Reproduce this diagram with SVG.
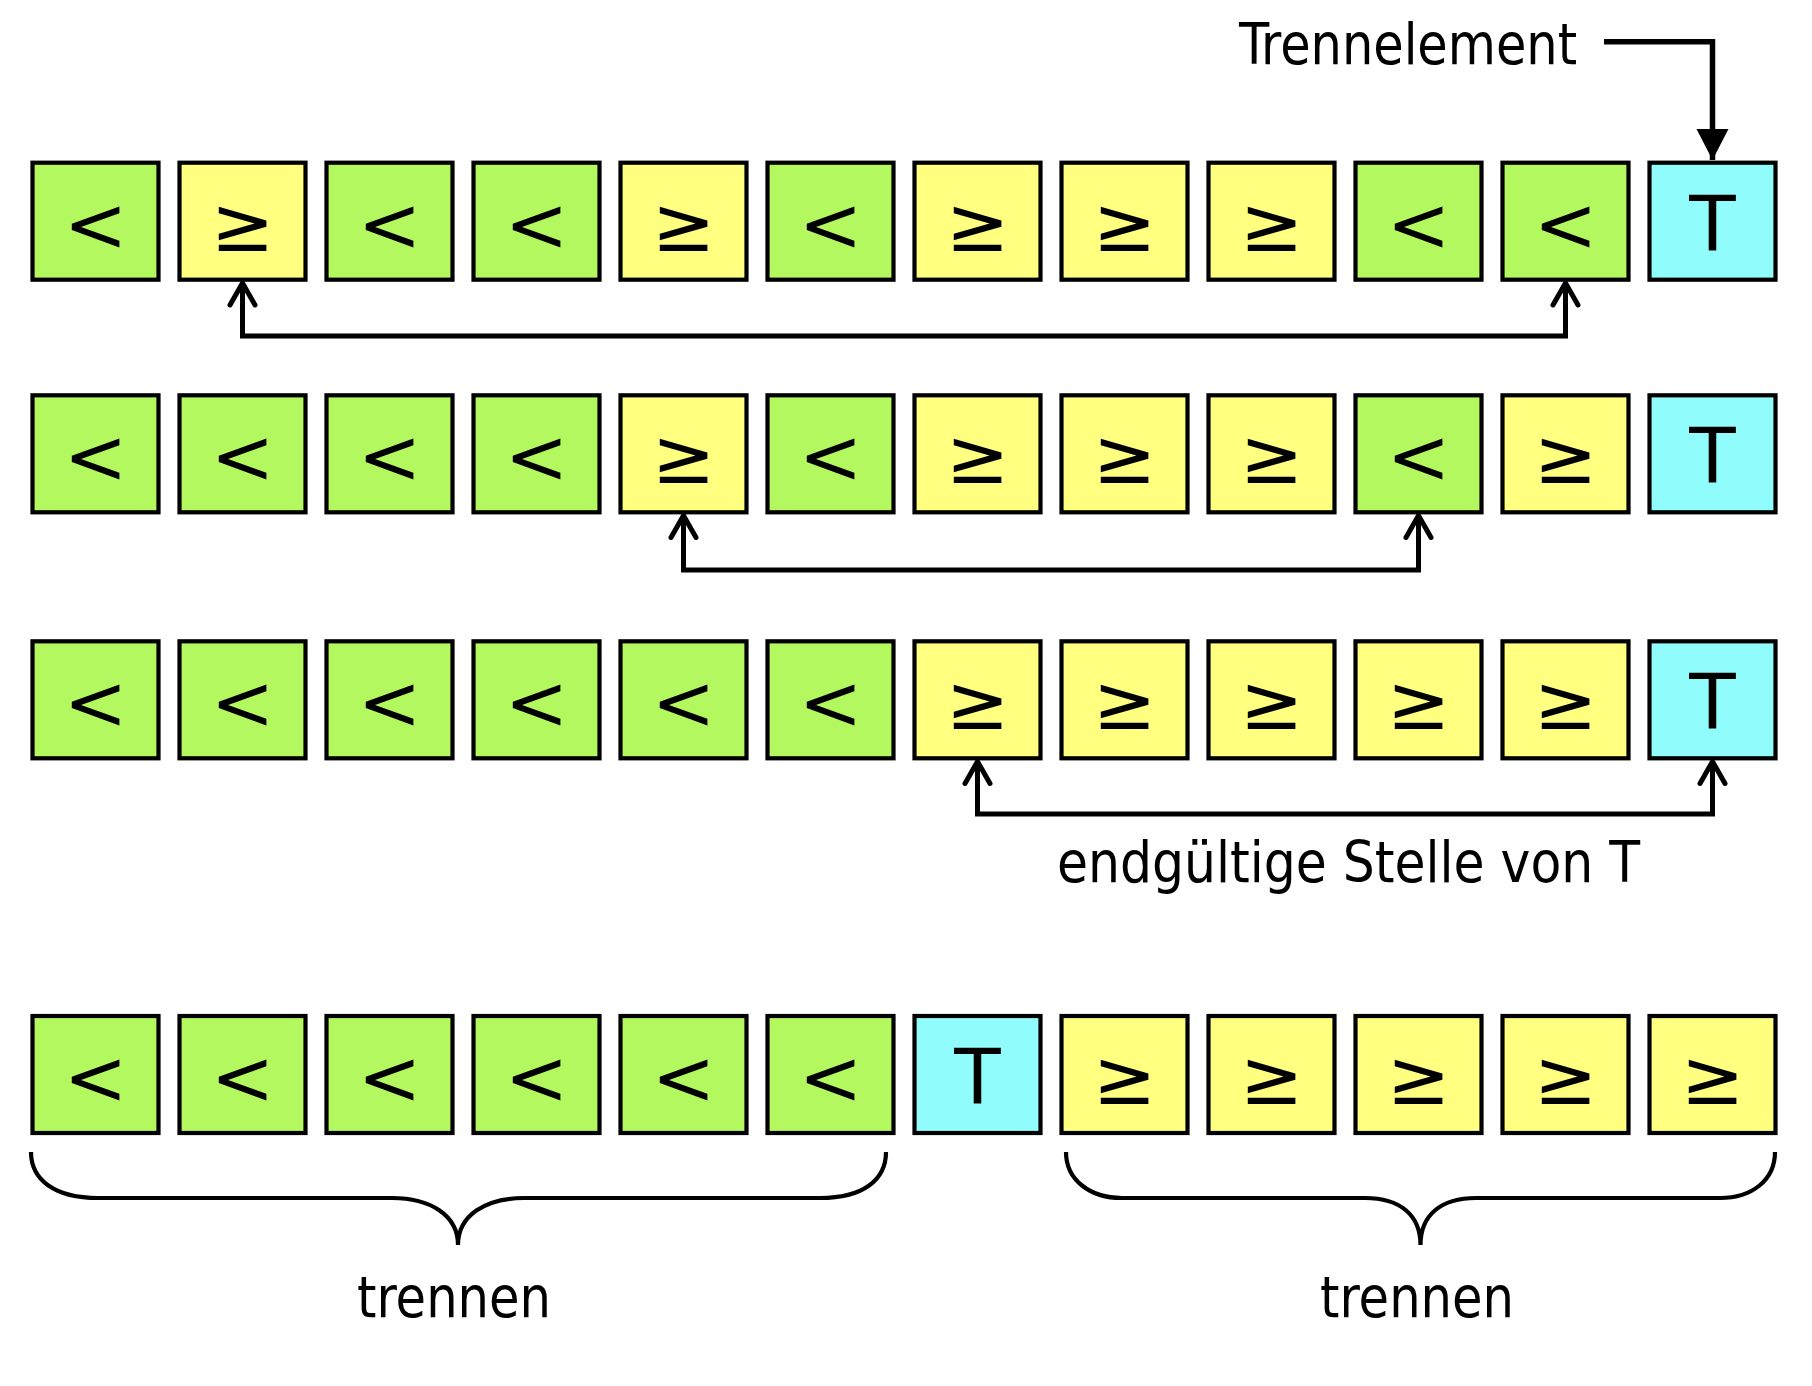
<svg xmlns="http://www.w3.org/2000/svg" width="1812" height="1386" viewBox="0 0 1812 1386">
<style>
.b{stroke:#000;stroke-width:4.2}
.g{fill:#b3f85e}.y{fill:#ffff80}.c{fill:#90fcfc}
.s{font-family:"DejaVu Sans",sans-serif;font-size:76px;text-anchor:middle;fill:#000}
.l{font-family:"DejaVu Sans Condensed","DejaVu Sans",sans-serif;font-size:57px;fill:#000}
.cn{fill:none;stroke:#000;stroke-width:5;stroke-linejoin:miter}
.br{fill:none;stroke:#000;stroke-width:4.2}
</style>
<defs>
<marker id="open" markerUnits="userSpaceOnUse" viewBox="-30 -20 40 40" refX="0" refY="0" markerWidth="40" markerHeight="40" orient="auto-start-reverse">
<path d="M-22,-12.5 L0,0 L-22,12.5" fill="none" stroke="#000" stroke-width="5" stroke-linecap="round" stroke-linejoin="miter"/>
</marker>
<marker id="fill" markerUnits="userSpaceOnUse" viewBox="-35 -20 40 40" refX="0" refY="0" markerWidth="40" markerHeight="40" orient="auto">
<path d="M-31,-16 L0,0 L-31,16 Z" fill="#000"/>
</marker>
</defs>

<g id="row1">
<g id="r1c1"><rect class="b g" x="32.5" y="162.7" width="126" height="117"/><text class="s" x="95.5" y="250.7">&lt;</text></g>
<g id="r1c2"><rect class="b y" x="179.5" y="162.7" width="126" height="117"/><text class="s" x="242.5" y="250.7">≥</text></g>
<g id="r1c3"><rect class="b g" x="326.5" y="162.7" width="126" height="117"/><text class="s" x="389.5" y="250.7">&lt;</text></g>
<g id="r1c4"><rect class="b g" x="473.5" y="162.7" width="126" height="117"/><text class="s" x="536.5" y="250.7">&lt;</text></g>
<g id="r1c5"><rect class="b y" x="620.5" y="162.7" width="126" height="117"/><text class="s" x="683.5" y="250.7">≥</text></g>
<g id="r1c6"><rect class="b g" x="767.5" y="162.7" width="126" height="117"/><text class="s" x="830.5" y="250.7">&lt;</text></g>
<g id="r1c7"><rect class="b y" x="914.5" y="162.7" width="126" height="117"/><text class="s" x="977.5" y="250.7">≥</text></g>
<g id="r1c8"><rect class="b y" x="1061.5" y="162.7" width="126" height="117"/><text class="s" x="1124.5" y="250.7">≥</text></g>
<g id="r1c9"><rect class="b y" x="1208.5" y="162.7" width="126" height="117"/><text class="s" x="1271.5" y="250.7">≥</text></g>
<g id="r1c10"><rect class="b g" x="1355.5" y="162.7" width="126" height="117"/><text class="s" x="1418.5" y="250.7">&lt;</text></g>
<g id="r1c11"><rect class="b g" x="1502.5" y="162.7" width="126" height="117"/><text class="s" x="1565.5" y="250.7">&lt;</text></g>
<g id="r1c12"><rect class="b c" x="1649.5" y="162.7" width="126" height="117"/><text class="s" x="1712.5" y="250.7">T</text></g>
</g>

<g id="row2">
<g id="r2c1"><rect class="b g" x="32.5" y="395.3" width="126" height="117"/><text class="s" x="95.5" y="483.3">&lt;</text></g>
<g id="r2c2"><rect class="b g" x="179.5" y="395.3" width="126" height="117"/><text class="s" x="242.5" y="483.3">&lt;</text></g>
<g id="r2c3"><rect class="b g" x="326.5" y="395.3" width="126" height="117"/><text class="s" x="389.5" y="483.3">&lt;</text></g>
<g id="r2c4"><rect class="b g" x="473.5" y="395.3" width="126" height="117"/><text class="s" x="536.5" y="483.3">&lt;</text></g>
<g id="r2c5"><rect class="b y" x="620.5" y="395.3" width="126" height="117"/><text class="s" x="683.5" y="483.3">≥</text></g>
<g id="r2c6"><rect class="b g" x="767.5" y="395.3" width="126" height="117"/><text class="s" x="830.5" y="483.3">&lt;</text></g>
<g id="r2c7"><rect class="b y" x="914.5" y="395.3" width="126" height="117"/><text class="s" x="977.5" y="483.3">≥</text></g>
<g id="r2c8"><rect class="b y" x="1061.5" y="395.3" width="126" height="117"/><text class="s" x="1124.5" y="483.3">≥</text></g>
<g id="r2c9"><rect class="b y" x="1208.5" y="395.3" width="126" height="117"/><text class="s" x="1271.5" y="483.3">≥</text></g>
<g id="r2c10"><rect class="b g" x="1355.5" y="395.3" width="126" height="117"/><text class="s" x="1418.5" y="483.3">&lt;</text></g>
<g id="r2c11"><rect class="b y" x="1502.5" y="395.3" width="126" height="117"/><text class="s" x="1565.5" y="483.3">≥</text></g>
<g id="r2c12"><rect class="b c" x="1649.5" y="395.3" width="126" height="117"/><text class="s" x="1712.5" y="483.3">T</text></g>
</g>

<g id="row3">
<g id="r3c1"><rect class="b g" x="32.5" y="641.3" width="126" height="117"/><text class="s" x="95.5" y="729.3">&lt;</text></g>
<g id="r3c2"><rect class="b g" x="179.5" y="641.3" width="126" height="117"/><text class="s" x="242.5" y="729.3">&lt;</text></g>
<g id="r3c3"><rect class="b g" x="326.5" y="641.3" width="126" height="117"/><text class="s" x="389.5" y="729.3">&lt;</text></g>
<g id="r3c4"><rect class="b g" x="473.5" y="641.3" width="126" height="117"/><text class="s" x="536.5" y="729.3">&lt;</text></g>
<g id="r3c5"><rect class="b g" x="620.5" y="641.3" width="126" height="117"/><text class="s" x="683.5" y="729.3">&lt;</text></g>
<g id="r3c6"><rect class="b g" x="767.5" y="641.3" width="126" height="117"/><text class="s" x="830.5" y="729.3">&lt;</text></g>
<g id="r3c7"><rect class="b y" x="914.5" y="641.3" width="126" height="117"/><text class="s" x="977.5" y="729.3">≥</text></g>
<g id="r3c8"><rect class="b y" x="1061.5" y="641.3" width="126" height="117"/><text class="s" x="1124.5" y="729.3">≥</text></g>
<g id="r3c9"><rect class="b y" x="1208.5" y="641.3" width="126" height="117"/><text class="s" x="1271.5" y="729.3">≥</text></g>
<g id="r3c10"><rect class="b y" x="1355.5" y="641.3" width="126" height="117"/><text class="s" x="1418.5" y="729.3">≥</text></g>
<g id="r3c11"><rect class="b y" x="1502.5" y="641.3" width="126" height="117"/><text class="s" x="1565.5" y="729.3">≥</text></g>
<g id="r3c12"><rect class="b c" x="1649.5" y="641.3" width="126" height="117"/><text class="s" x="1712.5" y="729.3">T</text></g>
</g>

<g id="row4">
<g id="r4c1"><rect class="b g" x="32.5" y="1016" width="126" height="117"/><text class="s" x="95.5" y="1104">&lt;</text></g>
<g id="r4c2"><rect class="b g" x="179.5" y="1016" width="126" height="117"/><text class="s" x="242.5" y="1104">&lt;</text></g>
<g id="r4c3"><rect class="b g" x="326.5" y="1016" width="126" height="117"/><text class="s" x="389.5" y="1104">&lt;</text></g>
<g id="r4c4"><rect class="b g" x="473.5" y="1016" width="126" height="117"/><text class="s" x="536.5" y="1104">&lt;</text></g>
<g id="r4c5"><rect class="b g" x="620.5" y="1016" width="126" height="117"/><text class="s" x="683.5" y="1104">&lt;</text></g>
<g id="r4c6"><rect class="b g" x="767.5" y="1016" width="126" height="117"/><text class="s" x="830.5" y="1104">&lt;</text></g>
<g id="r4c7"><rect class="b c" x="914.5" y="1016" width="126" height="117"/><text class="s" x="977.5" y="1104">T</text></g>
<g id="r4c8"><rect class="b y" x="1061.5" y="1016" width="126" height="117"/><text class="s" x="1124.5" y="1104">≥</text></g>
<g id="r4c9"><rect class="b y" x="1208.5" y="1016" width="126" height="117"/><text class="s" x="1271.5" y="1104">≥</text></g>
<g id="r4c10"><rect class="b y" x="1355.5" y="1016" width="126" height="117"/><text class="s" x="1418.5" y="1104">≥</text></g>
<g id="r4c11"><rect class="b y" x="1502.5" y="1016" width="126" height="117"/><text class="s" x="1565.5" y="1104">≥</text></g>
<g id="r4c12"><rect class="b y" x="1649.5" y="1016" width="126" height="117"/><text class="s" x="1712.5" y="1104">≥</text></g>
</g>

<g id="labels">
<text class="l" x="1239" y="64" textLength="338" lengthAdjust="spacingAndGlyphs">Trennelement</text>
<text class="l" x="1057" y="882" textLength="583" lengthAdjust="spacingAndGlyphs">endgültige Stelle von T</text>
<text class="l" x="357" y="1317" textLength="194" lengthAdjust="spacingAndGlyphs">trennen</text>
<text class="l" x="1320" y="1317" textLength="194" lengthAdjust="spacingAndGlyphs">trennen</text>
</g>

<g id="connectors">
<path d="M1604,41.7 H1712.5 V160" fill="none" stroke="#000" stroke-width="5.5" marker-end="url(#fill)"/>
<path class="cn" d="M242.5,283 V336 H1565.5 V283" marker-start="url(#open)" marker-end="url(#open)"/>
<path class="cn" d="M683.5,515.5 V570 H1418.5 V515.5" marker-start="url(#open)" marker-end="url(#open)"/>
<path class="cn" d="M977.5,761.5 V814 H1712.5 V761.5" marker-start="url(#open)" marker-end="url(#open)"/>
<path class="br" d="M31,1152 C31,1180 55,1198 98,1198 H392 C430,1198 458,1215 458,1245 C458,1215 486,1198 524,1198 H820 C863,1198 886,1180 886,1152"/>
<path class="br" d="M1066,1152 C1066,1180 1090,1198 1122,1198 H1365 C1400,1198 1420.5,1215 1420.5,1245 C1420.5,1215 1441,1198 1476,1198 H1720 C1752,1198 1775,1180 1775,1152"/>
</g>
</svg>
